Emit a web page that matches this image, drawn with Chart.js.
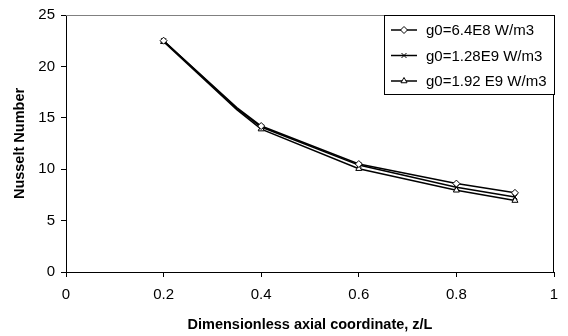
<!DOCTYPE html>
<html>
<head>
<meta charset="utf-8">
<script src="https://cdn.jsdelivr.net/npm/chart.js@4/dist/chart.umd.min.js"></script>
<style>
  html, body { margin: 0; padding: 0; background: #fff; }
  #wrap { width: 568px; height: 336px; position: relative; }
</style>
</head>
<body>
<div id="wrap"><canvas id="c"></canvas></div>
<script>
// values; 0.35 is a bend in the line without a marker
const x_pos = [0.2, 0.35, 0.4, 0.6, 0.8, 0.92];
const show_marker = [true, false, true, true, true, true];
const nu_64e8 = [22.5, 16.0, 14.2, 10.5, 8.6, 7.7];
const nu_128e9 = [22.5, 15.9, 14.1, 10.4, 8.25, 7.3];
const nu_192e9 = [22.4, 15.8, 13.9, 10.05, 7.95, 6.95];
const series_labels = ['g0=6.4E8 W/m3', 'g0=1.28E9 W/m3', 'g0=1.92 E9 W/m3'];
const series_markers = ['rectRot', 'crossRot', 'triangle'];
const x_ticks = [0, 0.2, 0.4, 0.6, 0.8, 1];
const y_ticks = [0, 5, 10, 15, 20, 25];

const FONT = 'Liberation Sans, Arial, sans-serif';

function make_ds(label, vals, marker) {
  return {
    label: label,
    data: x_pos.map((x, i) => ({ x: x, y: vals[i] })),
    borderColor: '#000',
    borderWidth: 1.5,
    pointStyle: marker,
    pointRadius: show_marker.map(s => s ? 3.5 : 0),
    pointBackgroundColor: '#fff',
    pointBorderColor: '#000',
    pointBorderWidth: 1,
    tension: 0,
    fill: false
  };
}

const datasets = [
  make_ds(series_labels[0], nu_64e8, series_markers[0]),
  make_ds(series_labels[1], nu_128e9, series_markers[1]),
  make_ds(series_labels[2], nu_192e9, series_markers[2])
];

// top / right frame of the plot area
const framePlugin = {
  id: 'frame',
  afterDraw(chart) {
    const { ctx, chartArea: a } = chart;
    ctx.save();
    ctx.lineWidth = 1;
    ctx.strokeStyle = '#808080';
    ctx.beginPath();
    ctx.moveTo(a.left, a.top + 0.5);
    ctx.lineTo(a.right, a.top + 0.5);
    ctx.stroke();
    ctx.strokeStyle = '#000';
    ctx.beginPath();
    ctx.moveTo(a.right - 0.5, a.top);
    ctx.lineTo(a.right - 0.5, a.bottom);
    ctx.stroke();
    ctx.restore();
  }
};

// boxed legend in the top right corner
const legendPlugin = {
  id: 'boxLegend',
  afterDraw(chart) {
    const { ctx, chartArea: a } = chart;
    const bx = 384.5, by = a.top + 0.5, bw = a.right - 384, bh = 79;
    ctx.save();
    ctx.fillStyle = '#fff';
    ctx.fillRect(bx, by, bw, bh);
    ctx.strokeStyle = '#000';
    ctx.lineWidth = 1;
    ctx.strokeRect(bx, by, bw, bh);
    ctx.font = '15px ' + FONT;
    ctx.textBaseline = 'middle';
    chart.data.datasets.forEach((ds, i) => {
      const yy = 30 + i * 25.5;
      ctx.strokeStyle = '#000';
      ctx.lineWidth = 1.5;
      ctx.beginPath();
      ctx.moveTo(391, yy);
      ctx.lineTo(417, yy);
      ctx.stroke();
      ctx.lineWidth = 1;
      ctx.fillStyle = '#fff';
      Chart.helpers.drawPoint(ctx, { pointStyle: ds.pointStyle, radius: 3.5, rotation: 0, borderWidth: 1 }, 404, yy);
      ctx.fillStyle = '#000';
      ctx.fillText(ds.label, 426, yy + 1);
    });
    ctx.restore();
  }
};

new Chart(document.getElementById('c'), {
  type: 'line',
  data: { datasets },
  options: {
    responsive: true,
    maintainAspectRatio: false,
    animation: false,
    layout: { padding: { top: 15, right: 14, left: 0, bottom: 0 } },
    plugins: { legend: { display: false }, tooltip: { enabled: false } },
    scales: {
      x: {
        type: 'linear',
        min: 0, max: 1,
        afterFit(s) { s.height = 64; },
        afterBuildTicks(s) { s.ticks = x_ticks.map(v => ({ value: v })); },
        grid: { drawOnChartArea: false, drawTicks: true, tickLength: 5, color: '#000' },
        border: { display: true, color: '#000', width: 1 },
        ticks: { color: '#000', font: { family: FONT, size: 15 }, padding: 9, maxRotation: 0,
                 callback: v => String(v) },
        title: { display: true, text: 'Dimensionless axial coordinate, z/L', color: '#000',
                 font: { family: FONT, size: 14.5, weight: 'bold' }, padding: { top: 2, bottom: 2 } }
      },
      y: {
        type: 'linear',
        min: 0, max: 25,
        afterFit(s) { s.width = 66; },
        afterBuildTicks(s) { s.ticks = y_ticks.map(v => ({ value: v })); },
        grid: { drawOnChartArea: false, drawTicks: true, tickLength: 5, color: '#000' },
        border: { display: true, color: '#000', width: 1 },
        ticks: { color: '#000', font: { family: FONT, size: 15 }, padding: 6 },
        title: { display: true, text: 'Nusselt Number', color: '#000',
                 font: { family: FONT, size: 14.5, weight: 'bold' }, padding: { top: 11, bottom: 11 } }
      }
    }
  },
  plugins: [framePlugin, legendPlugin]
});
</script>
</body>
</html>
